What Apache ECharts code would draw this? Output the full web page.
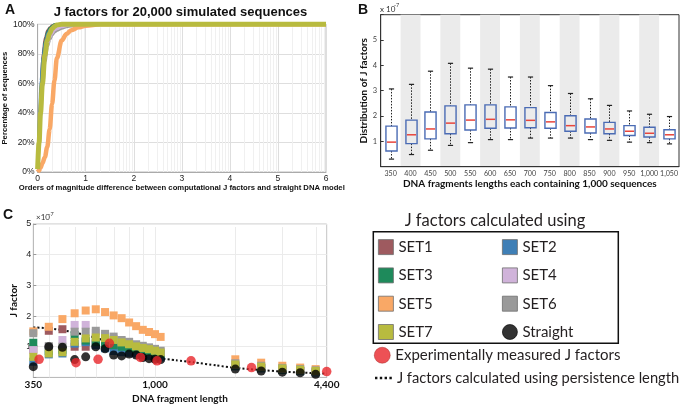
<!DOCTYPE html>
<html><head><meta charset="utf-8">
<script src="https://cdn.jsdelivr.net/npm/echarts@6/dist/echarts.min.js"></script>
<style>html,body{margin:0;padding:0;background:#fff}#chart{width:685px;height:405px}</style>
</head><body><div id="chart"></div>
<script>
// ---------- Panel A: cumulative distributions ----------
const cdfX    = [0, 0.03, 0.06, 0.1, 0.15, 0.2, 0.25, 0.3, 0.35, 0.4, 0.5, 0.6, 0.7, 0.85, 1.0, 1.3, 6];
const cdfSet1 = [4, 30, 55, 80, 91, 96, 98, 99.3, 100, 100, 100, 100, 100, 100, 100, 100, 100];
const cdfSet2 = [10, 40, 62, 78, 88, 94, 96.5, 98.5, 99.5, 100, 100, 100, 100, 100, 100, 100, 100];
const cdfSet3 = [4, 28, 52, 76, 89, 95, 97.5, 99, 100, 100, 100, 100, 100, 100, 100, 100, 100];
const cdfSet4 = [2, 19, 39, 59, 76, 86, 91, 94, 96, 97, 98.3, 99, 99.5, 99.8, 100, 100, 100];
const cdfSet5 = [0, 1, 3, 6, 10, 17, 29, 46, 62, 77, 89, 93.5, 96, 98, 99, 100, 100];
const cdfSet6 = [2, 18, 38, 58, 75, 85, 90, 93, 95, 96, 97.5, 98.5, 99, 99.6, 100, 100, 100];
const cdfSet7 = [2, 20, 40, 60, 79, 89, 94, 97, 98.5, 99.5, 100, 100, 100, 100, 100, 100, 100];

// ---------- Panel B: box plots (x 1e-7) ----------
const boxCategories = ['350','400','450','500','550','600','650','700','750','800','850','900','950','1,000','1,050'];
const boxLow    = [0.30, 0.48, 0.65, 0.84, 0.95, 1.07, 1.07, 1.13, 1.13, 1.13, 1.07, 1.04, 0.97, 0.95, 0.90];
const boxQ1     = [0.62, 0.91, 1.10, 1.30, 1.45, 1.52, 1.53, 1.54, 1.52, 1.40, 1.33, 1.30, 1.23, 1.17, 1.10];
const boxMedian = [0.97, 1.26, 1.49, 1.72, 1.84, 1.87, 1.85, 1.83, 1.77, 1.62, 1.57, 1.49, 1.40, 1.32, 1.26];
const boxQ3     = [1.60, 1.84, 2.16, 2.40, 2.44, 2.44, 2.36, 2.33, 2.14, 2.01, 1.88, 1.75, 1.62, 1.56, 1.46];
const boxHigh   = [3.07, 3.25, 3.77, 4.08, 3.89, 3.85, 3.54, 3.54, 3.20, 2.89, 2.68, 2.42, 2.20, 2.07, 1.98];

// ---------- Panel C: J factor vs length (x 1e-7) ----------
const lengths   = [350,400,450,500,550,600,650,700,750,800,850,900,950,1000,1050,2000,2500,3000,3500,4000];
const jSet1     = [0.92,1.52,1.57,1.00,1.00,1.10,1.10,1.05,1.00,0.95,0.92,0.88,0.84,0.81,0.77,0.38,0.31,0.25,0.21,0.17];
const jSet2     = [0.51,0.75,0.78,1.10,1.15,1.05,0.95,0.86,0.82,0.80,0.78,0.74,0.70,0.68,0.65,0.36,0.29,0.24,0.20,0.16];
const jSet3     = [1.13,0.86,0.90,1.38,1.20,1.15,1.10,1.05,1.00,0.96,0.92,0.88,0.84,0.80,0.76,0.38,0.31,0.25,0.21,0.17];
const jSet4     = [0.89,0.98,1.22,1.71,1.71,1.45,1.35,1.26,1.17,1.10,1.03,0.98,0.94,0.89,0.84,0.40,0.33,0.27,0.23,0.19];
const jSet5     = [1.50,1.65,1.90,2.09,2.18,2.22,2.13,2.02,1.93,1.79,1.67,1.55,1.48,1.41,1.32,0.59,0.48,0.38,0.32,0.27];
const jSet6     = [1.44,1.02,1.00,1.49,1.49,1.52,1.42,1.33,1.22,1.16,1.08,1.03,0.98,0.93,0.87,0.46,0.38,0.31,0.27,0.23];
const jSet7     = [0.67,0.78,0.82,1.16,1.27,1.30,1.28,1.22,1.14,1.08,1.01,0.96,0.92,0.87,0.81,0.42,0.35,0.29,0.25,0.21];
const jStraight = [0.35,1.00,0.98,0.58,0.67,1.00,0.93,0.73,0.70,0.76,0.73,0.65,0.61,0.59,0.58,0.27,0.21,0.17,0.15,0.10];
const measuredX = [368, 506, 612, 675, 882, 1018, 1365, 2300, 4400];
const measuredY = [0.59, 0.48, 0.59, 1.11, 0.65, 0.54, 0.54, 0.32, 0.19];
const persistX  = [350,400,450,500,550,600,650,700,750,800,900,1000,1200,1400,1700,2000,2500,3000,3500,4400];
const persistY  = [1.63,1.60,1.54,1.46,1.38,1.29,1.20,1.10,1.01,0.92,0.77,0.65,0.56,0.49,0.39,0.31,0.24,0.19,0.16,0.12];
const cGridX    = [400,500,600,700,800,900,1000,2000,3000,4000];

const setNames  = ['SET1','SET2','SET3','SET4','SET5','SET6','SET7'];
const setColors = ['#9e5a5f','#3f7fb6','#1e8a5b','#d0b3da','#f9a866','#9a9a9a','#b8bb3f'];
const cdfData   = [cdfSet1, cdfSet2, cdfSet3, cdfSet4, cdfSet5, cdfSet6, cdfSet7];
const jData     = [jSet1, jSet2, jSet3, jSet4, jSet5, jSet6, jSet7];

const SANS = 'Liberation Sans';
const MYR = 'Lato';

// minor log-style grid for panel A (axis decoration only)
const aMinorGrid = [];
for (let n = 0; n < 6; n++) for (let k = 2; k <= 9; k++) aMinorGrid.push(n + Math.log10(k));

function vGridRenderer(color) {
  return function (params, api) {
    const cs = params.coordSys;
    const x = Math.round(api.coord([api.value(0), 0])[0]) + 0.5;
    return {type:'line', silent:true,
      shape:{x1:x, y1:cs.y + 3, x2:x, y2:cs.y + cs.height},
      style:{stroke:color, lineWidth:1}};
  };
}

const series = [];
// Panel A grid
series.push({type:'custom', xAxisIndex:0, yAxisIndex:0, silent:true, z:1,
  data: aMinorGrid.map(v => [v, 0]), encode:{x:0, y:1},
  renderItem: vGridRenderer('#f0f0f0')});
const aOrder = [5, 3, 4, 0, 2, 1, 6];
const aWidths = [2, 2, 2, 3, 4.5, 3.5, 5];
aOrder.forEach(i => {
  series.push({name: setNames[i] + ' (A)', type:'line', xAxisIndex:0, yAxisIndex:0, z:3,
    data: cdfX.map((x, j) => [x, cdfData[i][j]]), showSymbol:false, symbol:'none',
    smooth:0.35, smoothMonotone:'x', clip:false,
    lineStyle:{color: setColors[i], width: aWidths[i]}, itemStyle:{color:setColors[i]}});
});
// Panel B
series.push({type:'custom', xAxisIndex:1, yAxisIndex:1, z:3,
  data: boxCategories.map((c, i) => [i, boxLow[i], boxQ1[i], boxMedian[i], boxQ3[i], boxHigh[i]]),
  encode:{x:0, y:[1,2,3,4,5]},
  renderItem: function (params, api) {
    const i = api.value(0);
    const bw = api.size([1, 0])[0];
    const half = bw * 0.28, cap = bw * 0.13;
    const lo = api.coord([i, api.value(1)]);
    const q1 = api.coord([i, api.value(2)]);
    const md = api.coord([i, api.value(3)]);
    const q3 = api.coord([i, api.value(4)]);
    const hi = api.coord([i, api.value(5)]);
    const x = Math.round(lo[0]) + 0.5;
    const dash = {stroke:'#222', lineWidth:1, lineDash:[1.5, 1.5]};
    const solid = {stroke:'#222', lineWidth:1.2};
    return {type:'group', children:[
      {type:'line', shape:{x1:x, y1:hi[1], x2:x, y2:q3[1]}, style:dash},
      {type:'line', shape:{x1:x, y1:q1[1], x2:x, y2:lo[1]}, style:dash},
      {type:'line', shape:{x1:x-cap, y1:hi[1], x2:x+cap, y2:hi[1]}, style:solid},
      {type:'line', shape:{x1:x-cap, y1:lo[1], x2:x+cap, y2:lo[1]}, style:solid},
      {type:'rect', shape:{x:x-half, y:q3[1], width:2*half, height:q1[1]-q3[1]}, style:{fill:'none', stroke:'#4a6bb4', lineWidth:1.4}},
      {type:'line', shape:{x1:x-half+1, y1:md[1], x2:x+half-1, y2:md[1]}, style:{stroke:'#e8453c', lineWidth:1.5}}
    ]};
  }});
// Panel C grid
series.push({type:'custom', xAxisIndex:2, yAxisIndex:2, silent:true, z:1,
  data: cGridX.map(v => [v, 0]), encode:{x:0, y:1},
  renderItem: vGridRenderer('#ebebeb')});
for (let i = 0; i < 7; i++) {
  series.push({name: setNames[i], type:'scatter', xAxisIndex:2, yAxisIndex:2, z:3,
    symbol:'rect', symbolSize:8, data: lengths.map((x, j) => [x, jData[i][j]]),
    itemStyle:{color: setColors[i], opacity:1}});
}
series.push({name:'J factors calculated using persistence length', type:'line', xAxisIndex:2, yAxisIndex:2, z:3,
  data: persistX.map((x, j) => [x, persistY[j]]), symbol:'none', showSymbol:false, smooth:0.2,
  lineStyle:{color:'#111', width:2, type:[2, 2.2]}, itemStyle:{color:'#111'}});
series.push({name:'Straight', type:'scatter', xAxisIndex:2, yAxisIndex:2, z:3, symbol:'circle', symbolSize:9,
  data: lengths.map((x, j) => [x, jStraight[j]]), itemStyle:{color:'#000'}});
series.push({name:'Experimentally measured J factors', type:'scatter', xAxisIndex:2, yAxisIndex:2, z:3, symbol:'circle', symbolSize:9.5,
  data: measuredX.map((x, j) => [x, measuredY[j]]), itemStyle:{color:'#e8262a'}});

const legendText = {fontFamily: MYR, fontSize: 15, color: '#231f20'};
const legendBase = {orient:'vertical', padding:0, itemWidth:15, itemHeight:15, itemGap:12.5, selectedMode:false,
  textStyle: legendText, itemStyle:{borderColor:'#6e6e6e', borderWidth:0.8}};

const option = {
  animation:false,
  backgroundColor:'#fff',
  grid:[
    {left:35, top:24.3, width:291, height:147.7, show:true, borderColor:'#bdbdbd', borderWidth:1},
    {left:380.7, top:14.7, width:298.3, height:152, show:true, borderColor:'#333', borderWidth:1},
    {left:33.3, top:224, width:293.4, height:153.4, show:true, borderColor:'#c4c4c4', borderWidth:1}
  ],
  xAxis:[
    {gridIndex:0, type:'value', min:0, max:6, interval:1,
      axisLine:{show:true, lineStyle:{color:'#aaa'}}, axisTick:{show:false},
      axisLabel:{margin:2, fontSize:8.5, color:'#222', fontFamily:SANS},
      splitLine:{show:true, lineStyle:{color:'#dedede'}},
      name:'Orders of magnitude difference between computational J factors and straight DNA model',
      nameLocation:'middle', nameGap:7,
      nameTextStyle:{fontSize:7.7, fontWeight:'bold', fontFamily:SANS, color:'#111'}},
    {gridIndex:1, type:'category', data:boxCategories,
      axisLine:{show:true, lineStyle:{color:'#333'}}, axisTick:{show:false, interval:0},
      axisLabel:{interval:0, margin:4, fontSize:7.1, color:'#444', fontFamily:MYR},
      splitArea:{show:true, interval:0, areaStyle:{color:['rgba(255,255,255,0)','#ebebeb']}},
      splitLine:{show:false},
      name:'DNA fragments lengths each containing 1,000 sequences',
      nameLocation:'middle', nameGap:11,
      nameTextStyle:{fontSize:10, fontWeight:'bold', fontFamily:MYR, color:'#111'}},
    {gridIndex:2, type:'log', logBase:10, min:350, max:4400,
      axisLine:{show:true, lineStyle:{color:'#bbb'}}, axisTick:{show:false},
      axisLabel:{margin:2, fontSize:10, fontWeight:'bold', color:'#111', fontFamily:MYR,
        showMinLabel:true, showMaxLabel:true,
        formatter: v => Math.round(v).toLocaleString('en-US')},
      splitLine:{show:false},
      name:'DNA fragment length', nameLocation:'middle', nameGap:16,
      nameTextStyle:{fontSize:10, fontWeight:'bold', fontFamily:MYR, color:'#111'}}
  ],
  yAxis:[
    {gridIndex:0, type:'value', min:0, max:100, interval:20,
      axisLine:{show:true, lineStyle:{color:'#aaa'}}, axisTick:{show:false},
      axisLabel:{margin:3, fontSize:8.5, color:'#222', fontFamily:SANS, formatter:'{value}%'},
      splitLine:{show:true, lineStyle:{color:'#dedede'}},
      name:'Percentage of sequences', nameLocation:'middle', nameGap:26,
      nameTextStyle:{fontSize:7.7, fontWeight:'bold', fontFamily:SANS, color:'#111'}},
    {gridIndex:1, type:'value', min:0, max:6, interval:1,
      axisLine:{show:true, lineStyle:{color:'#333'}},
      axisTick:{show:true, inside:true, length:3, lineStyle:{color:'#333'}},
      axisLabel:{margin:3.5, fontSize:7.5, color:'#444', fontFamily:MYR,
        formatter: v => (v === 0 || v === 6) ? '' : String(v)},
      splitLine:{show:false},
      name:'Distribution of J factors', nameLocation:'middle', nameGap:12,
      nameTextStyle:{fontSize:10, fontWeight:'bold', fontFamily:MYR, color:'#111'}},
    {gridIndex:2, type:'value', min:0, max:5, interval:1,
      axisLine:{show:true, lineStyle:{color:'#bbb'}},
      axisTick:{show:true, inside:true, length:3, lineStyle:{color:'#999'}},
      axisLabel:{margin:2, fontSize:9, color:'#222', fontFamily:SANS,
        formatter: v => v === 0 ? '' : String(v)},
      splitLine:{show:true, lineStyle:{color:'#ebebeb'}},
      name:'J factor', nameLocation:'middle', nameGap:15,
      nameTextStyle:{fontSize:10, fontWeight:'bold', fontFamily:MYR, color:'#111'}}
  ],
  legend:[
    Object.assign({}, legendBase, {left:378, top:239.2,
      data:[{name:'SET1',icon:'rect'},{name:'SET3',icon:'rect'},{name:'SET5',icon:'rect'},{name:'SET7',icon:'rect'}]}),
    Object.assign({}, legendBase, {left:502, top:239.2,
      data:[{name:'SET2',icon:'rect'},{name:'SET4',icon:'rect'},{name:'SET6',icon:'rect'},
            {name:'Straight',icon:'circle', itemStyle:{borderColor:'#000'}}]}),
    Object.assign({}, legendBase, {left:374, top:347, itemWidth:16, itemHeight:16,
      itemStyle:{borderColor:'#9a1a1a', borderWidth:0.5},
      data:[{name:'Experimentally measured J factors', icon:'circle'}]}),
    {orient:'horizontal', padding:0, left:375, top:370.5, itemWidth:17, itemHeight:2.4, selectedMode:false,
      textStyle: Object.assign({}, legendText, {fontSize:14.7}),
      itemStyle:{color:'#111', borderWidth:0},
      data:[{name:'J factors calculated using persistence length',
             icon:'path://M0,0h2v2h-2z M4,0h2v2h-2z M8,0h2v2h-2z M12,0h2v2h-2z'}]}
  ],
  graphic:[
    {type:'text', x:10, y:10, style:{text:'A', fontSize:14, fontWeight:'bold', fontFamily:SANS, fill:'#111', align:'center', verticalAlign:'middle'}},
    {type:'text', x:180.5, y:12.5, style:{text:'J factors for 20,000 simulated sequences', fontSize:13, fontWeight:'bold', fontFamily:SANS, fill:'#111', align:'center', verticalAlign:'middle'}},
    {type:'text', x:363, y:10, style:{text:'B', fontSize:14, fontWeight:'bold', fontFamily:SANS, fill:'#111', align:'center', verticalAlign:'middle'}},
    {type:'text', x:380, y:9, style:{text:'x 10', fontSize:8, fontFamily:MYR, fill:'#333', align:'left', verticalAlign:'middle'}},
    {type:'text', x:394, y:5.5, style:{text:'-7', fontSize:5.5, fontFamily:MYR, fill:'#333', align:'left', verticalAlign:'middle'}},
    {type:'text', x:8, y:215, style:{text:'C', fontSize:14, fontWeight:'bold', fontFamily:SANS, fill:'#111', align:'center', verticalAlign:'middle'}},
    {type:'text', x:36, y:217.5, style:{text:'\u00d710', fontSize:8, fontFamily:MYR, fill:'#333', align:'left', verticalAlign:'middle'}},
    {type:'text', x:48.5, y:214, style:{text:'-7', fontSize:5.5, fontFamily:MYR, fill:'#333', align:'left', verticalAlign:'middle'}},
    {type:'text', x:495, y:220.7, style:{text:'J factors calculated using', fontSize:16.5, fontFamily:MYR, fill:'#231f20', align:'center', verticalAlign:'middle'}},
    {type:'rect', shape:{x:373.3, y:231.7, width:245, height:111.6}, style:{fill:'none', stroke:'#111', lineWidth:1.5}}
  ],
  series: series
};
const chart = echarts.init(document.getElementById('chart'), null, {renderer:'canvas'});
chart.setOption(option);
</script>
</body></html>
